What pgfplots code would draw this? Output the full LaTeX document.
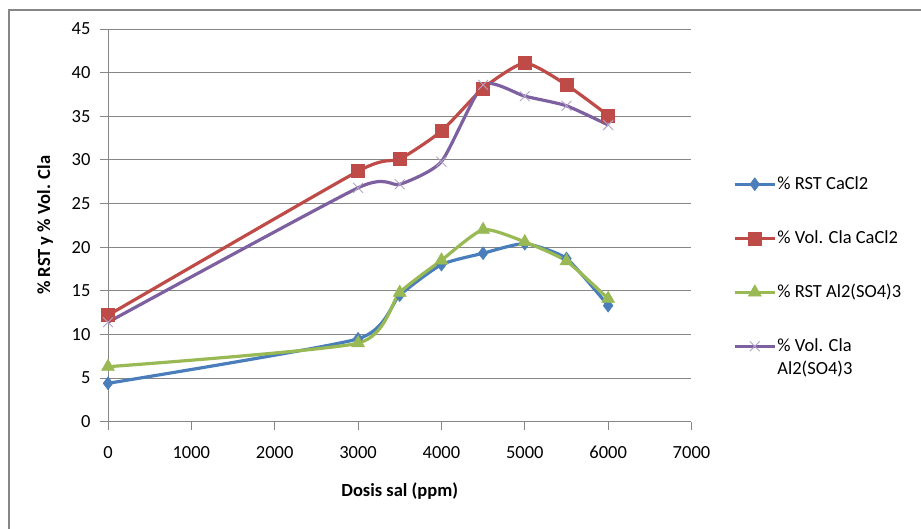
\documentclass[border=0pt]{standalone}
\usepackage{fontspec}
\setmainfont{Carlito}
\usepackage{pgfplots}
\pgfplotsset{compat=1.18}
\definecolor{sBlue}{HTML}{4A7EBB}
\definecolor{sRed}{HTML}{BE4B48}
\definecolor{sGreen}{HTML}{98B954}
\definecolor{sPurple}{HTML}{7D60A0}
\definecolor{sLav}{HTML}{B3A2C7}
\definecolor{gridgray}{HTML}{868686}
\begin{document}
\begin{tikzpicture}[x=1pt,y=1pt]
\path[use as bounding box] (-108,-107.3) rectangle (813,421.7);
\draw[gridgray, line width=2.4pt] (-99,-140) -- (-99,411.5) -- (830,411.5);
\begin{axis}[
  at={(0,0)}, anchor=south west,
  scale only axis, width=583.5pt, height=392.7pt,
  xmin=0, xmax=7000, ymin=0, ymax=45,
  xtick={0,1000,...,7000}, ytick={0,5,...,45},
  axis x line*=bottom, axis y line*=left,
  axis line style={-, gridgray, line width=0.8pt},
  ymajorgrids, grid style={gridgray, line width=0.8pt},
  tick align=outside, major tick length=8pt,
  tick style={gridgray, line width=0.8pt},
  ticklabel style={font=\fontsize{18.5}{22}\selectfont, text=black},
  xticklabel style={yshift=-13pt},
  yticklabel style={xshift=-6pt},
  /pgf/number format/assume math mode=true,
  /pgf/number format/set thousands separator={},
  xlabel={Dosis sal (ppm)},
  xlabel style={font=\bfseries\fontsize{18.5}{22}\selectfont, at={(axis description cs:0.5,-0.1765)}, anchor=center},
  ylabel={\% RST y \% Vol. Cla},
  ylabel style={font=\bfseries\fontsize{18.5}{22}\selectfont, at={(axis description cs:-0.108,0.5)}, anchor=center},
  clip=false,
  every axis plot/.append style={smooth, tension=0.35, line width=3.2pt},
  legend image code/.code={\draw[mark repeat=2, mark phase=2, #1] plot coordinates {(0pt,0pt) (20pt,0pt) (40pt,0pt)};},
  legend style={draw=none, fill=none, at={(axis description cs:1.0711,0.628)}, anchor=north west,
    inner sep=0pt, row sep=36pt, column sep=1pt,
    font=\fontsize{18.5}{23}\selectfont,
    nodes={inner sep=0pt, text height=14pt, text depth=4pt}},
  legend cell align=left,
]
\addplot[color=sBlue, mark=diamond*, mark size=6.5pt, mark options={line width=0.5pt}] coordinates {
  (0,4.4) (3000,9.5) (3500,14.5) (4000,18.0) (4500,19.3) (5000,20.4) (5500,18.7) (6000,13.3)};
\addlegendentry{\% RST CaCl2}
\addplot[color=sRed, mark=square*, mark size=6.5pt, mark options={line width=0.5pt}] coordinates {
  (0,12.2) (3000,28.7) (3500,30.1) (4000,33.3) (4500,38.2) (5000,41.1) (5500,38.6) (6000,35.1)};
\addlegendentry{\% Vol. Cla CaCl2}
\addplot[color=sGreen, mark=triangle*, mark size=7.5pt, mark options={line width=0.5pt}] coordinates {
  (0,6.3) (3000,9.0) (3500,14.8) (4000,18.5) (4500,22.0) (5000,20.6) (5500,18.4) (6000,14.1)};
\addlegendentry{\% RST Al2(SO4)3}
\addplot[color=sPurple, mark=x, mark size=7pt, mark options={draw=sLav, line width=0.9pt}] coordinates {
  (0,11.4) (3000,26.8) (3500,27.2) (4000,29.8) (4500,38.6) (5000,37.3) (5500,36.2) (6000,34.0)};
\addlegendentry{\begin{tabular}[t]{@{}l@{}}\% Vol. Cla\\Al2(SO4)3\end{tabular}}
\end{axis}
\end{tikzpicture}
\end{document}
